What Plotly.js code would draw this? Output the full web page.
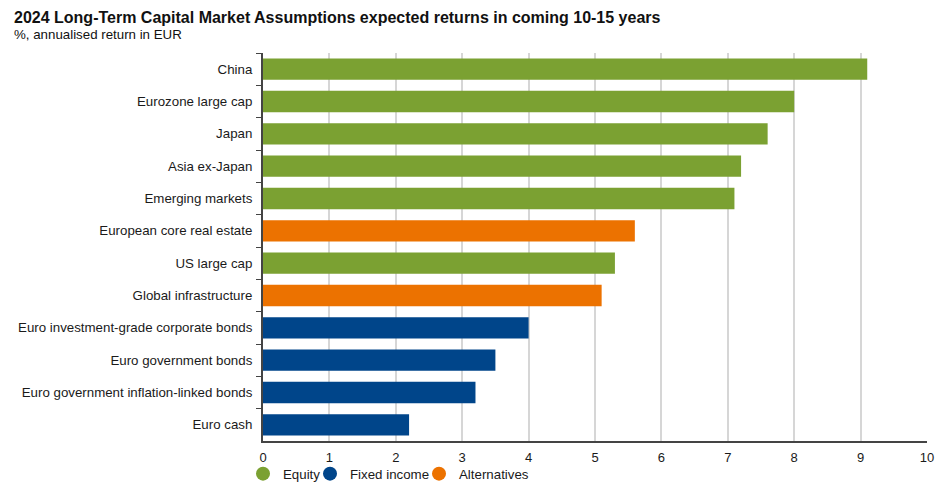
<!DOCTYPE html>
<html>
<head>
<meta charset="utf-8">
<script src="https://cdn.plot.ly/plotly-3.0.1.min.js"></script>
<style>html,body{margin:0;padding:0;background:#fff;}#chart{width:946px;height:501px;}</style>
</head>
<body>
<div id="chart"></div>
<script>
const categories = [
  "China",
  "Eurozone large cap",
  "Japan",
  "Asia ex-Japan",
  "Emerging markets",
  "European core real estate",
  "US large cap",
  "Global infrastructure",
  "Euro investment-grade corporate bonds",
  "Euro government bonds",
  "Euro government inflation-linked bonds",
  "Euro cash"
];
const returns = [9.1, 8.0, 7.6, 7.2, 7.1, 5.6, 5.3, 5.1, 4.0, 3.5, 3.2, 2.2];
const groups = ["Equity","Equity","Equity","Equity","Equity","Alternatives","Equity","Alternatives","Fixed income","Fixed income","Fixed income","Fixed income"];
const groupNames = ["Equity", "Fixed income", "Alternatives"];
const groupColors = {"Equity": "#7BA132", "Fixed income": "#00458A", "Alternatives": "#EC7200"};
const xTicks = [0,1,2,3,4,5,6,7,8,9,10];

const W = 946, H = 501, ML = 263, MR = 19, MT = 53, MB = 60;
const PW = W - ML - MR, PH = H - MT - MB;
const px2x = p => (p - ML) / PW;
const py2y = p => (H - MB - p) / PH;

const traces = [{
  type: "bar",
  orientation: "h",
  y: categories,
  x: returns,
  marker: {color: groups.map(g => groupColors[g])},
  showlegend: false,
  hoverinfo: "x+y"
}];
const legendIds = ["legend", "legend2", "legend3"];
groupNames.forEach((g, i) => {
  traces.push({
    type: "scatter",
    mode: "markers",
    x: [null], y: [null],
    name: g,
    legend: legendIds[i],
    marker: {color: groupColors[g], size: 14, symbol: "circle"},
    showlegend: true
  });
});

const legendLeft = [243, 310, 419];
function legendBox(i) {
  return {orientation: "h", x: px2x(legendLeft[i]), xanchor: "left", y: py2y(474), yanchor: "middle",
          font: {size: 13.3, color: "#1a1a1a"}, itemwidth: 30, bgcolor: "rgba(0,0,0,0)"};
}

const layout = {
  width: W, height: H,
  margin: {l: ML, r: MR, t: MT, b: MB},
  paper_bgcolor: "#fff", plot_bgcolor: "#fff",
  font: {family: "Liberation Sans, Arial, sans-serif", size: 13, color: "#1a1a1a"},
  bargap: 0.34,
  showlegend: true,
  legend: legendBox(0),
  legend2: legendBox(1),
  legend3: legendBox(2),
  xaxis: {
    range: [0, 10], tickvals: xTicks, ticktext: xTicks.map(String),
    showgrid: true, gridcolor: "#d6d6d6", gridwidth: 2,
    zeroline: false, showline: true, linecolor: "#444", linewidth: 2,
    ticks: "", ticklabelstandoff: 3, tickfont: {size: 13, color: "#1a1a1a"}, fixedrange: true
  },
  yaxis: {
    type: "category", categoryorder: "array", categoryarray: categories,
    autorange: "reversed", showgrid: false, zeroline: false,
    showline: true, linecolor: "#444", linewidth: 2,
    ticks: "outside", tickson: "boundaries", ticklen: 5, tickcolor: "#444",
    ticklabelstandoff: 6,
    tickfont: {size: 13.3, color: "#1a1a1a"}, fixedrange: true
  },
  annotations: [
    {xref: "paper", yref: "paper", x: px2x(12), y: py2y(17), xanchor: "left", yanchor: "middle",
     text: "<b>2024 Long-Term Capital Market Assumptions expected returns in coming 10-15 years</b>",
     showarrow: false, font: {size: 16, color: "#111"}},
    {xref: "paper", yref: "paper", x: px2x(12), y: py2y(35), xanchor: "left", yanchor: "middle",
     text: "%, annualised return in EUR", showarrow: false, font: {size: 13.3, color: "#111"}}
  ]
};
Plotly.newPlot("chart", traces, layout, {displayModeBar: false, staticPlot: true});
</script>
</body>
</html>
